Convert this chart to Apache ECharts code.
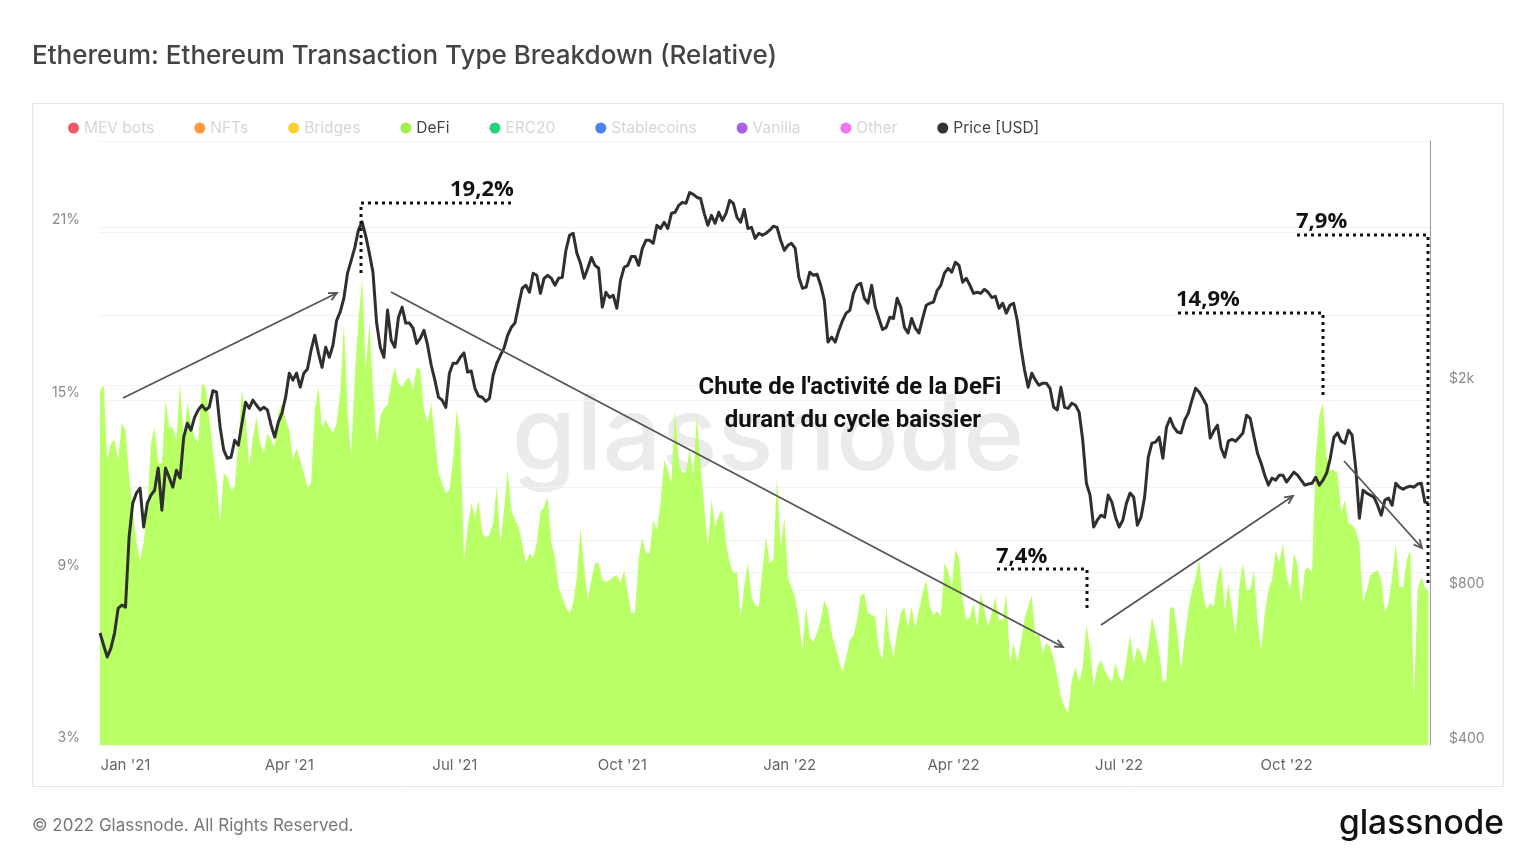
<!DOCTYPE html>
<html>
<head>
<meta charset="utf-8">
<title>Ethereum Transaction Type Breakdown</title>
<script src="https://cdn.jsdelivr.net/npm/echarts@6/dist/echarts.min.js"></script>
<style>
    html, body { margin: 0; padding: 0; background: #fff; }
    #box { width: 1536px; height: 864px; }
</style>
</head>
<body>
<div id="box"></div>
<script>
; (function () {
    // one reading every 2 days, starting 18 Dec 2020
    const startDay = Date.UTC(2020, 11, 18),
        stepDay = 2 * 24 * 3600 * 1000;

    // DeFi share of transactions, %
    const defi = [
        15.34, 15.51, 12.91, 13.50, 13.60, 12.91, 14.19, 13.95, 12.32, 11.17, 10.02, 9.43, 10.02, 11.17, 13.50, 14.05,
        12.80, 12.80, 14.99, 14.05, 14.05, 13.60, 15.58, 13.60, 14.89, 14.19, 13.71, 13.50, 15.58, 15.44, 14.40, 13.25,
        12.21, 10.72, 12.45, 12.32, 11.86, 11.97, 13.50, 15.34, 14.40, 12.66, 13.71, 14.40, 13.50, 13.15, 13.85, 13.60,
        13.36, 14.54, 14.89, 14.30, 13.95, 12.91, 13.32, 12.91, 12.45, 11.97, 12.11, 14.65, 15.44, 14.05, 14.30, 14.05,
        13.85, 14.19, 15.27, 17.67, 14.65, 13.01, 15.79, 17.77, 19.20, 16.04, 17.67, 15.44, 13.50, 14.40, 14.71, 14.82,
        15.58, 16.14, 15.58, 15.44, 15.69, 15.79, 15.34, 16.14, 16.04, 14.65, 14.19, 14.89, 13.71, 12.45, 12.11, 11.76,
        11.86, 12.91, 14.65, 13.71, 9.43, 10.58, 11.41, 10.93, 11.52, 10.37, 10.20, 10.30, 10.72, 11.97, 10.02, 11.17,
        12.56, 11.17, 10.82, 10.58, 10.02, 9.33, 9.67, 9.50, 10.02, 11.10, 11.27, 11.62, 10.02, 9.53, 8.49, 8.14,
        7.80, 7.59, 7.94, 8.84, 10.54, 9.19, 8.04, 8.74, 9.33, 9.33, 8.74, 8.67, 8.74, 8.84, 8.91, 8.63,
        9.08, 8.28, 7.59, 7.59, 9.53, 10.20, 9.67, 9.67, 10.82, 10.47, 11.41, 12.91, 12.56, 12.11, 14.65, 12.80,
        12.45, 12.49, 13.25, 12.39, 14.40, 12.80, 11.27, 9.88, 11.52, 10.58, 10.99, 11.17, 10.02, 9.36, 8.98, 9.01,
        7.45, 8.49, 9.33, 8.14, 7.87, 7.80, 9.08, 10.23, 9.33, 9.43, 12.32, 9.88, 10.93, 8.84, 8.46, 8.14,
        7.35, 6.30, 7.80, 6.75, 6.58, 6.89, 7.35, 8.04, 7.69, 6.89, 6.41, 5.95, 5.54, 6.06, 6.65, 6.82,
        7.35, 8.21, 8.28, 7.59, 7.52, 7.45, 6.30, 5.95, 7.80, 6.65, 6.06, 6.89, 7.59, 7.80, 7.10, 7.80,
        7.07, 7.69, 8.28, 8.74, 7.80, 7.52, 7.66, 7.45, 9.33, 9.08, 8.49, 9.78, 9.53, 8.04, 7.35, 7.45,
        7.94, 7.10, 8.28, 7.69, 7.10, 7.59, 8.14, 7.35, 7.35, 8.28, 5.85, 6.55, 5.89, 6.55, 7.41, 7.80,
        8.21, 6.75, 6.89, 6.20, 6.55, 6.41, 6.02, 5.36, 4.67, 4.32, 4.11, 5.26, 5.71, 5.16, 5.71, 7.17,
        6.41, 5.02, 5.71, 5.95, 5.61, 5.36, 5.16, 5.85, 5.36, 5.16, 5.95, 6.82, 5.85, 6.41, 6.20, 5.78,
        6.41, 7.45, 6.89, 6.23, 5.16, 5.26, 7.80, 7.76, 6.89, 5.61, 6.75, 7.69, 8.39, 8.80, 9.43, 8.28,
        7.69, 7.94, 7.80, 8.80, 9.26, 7.69, 8.63, 7.69, 6.82, 8.49, 9.33, 8.39, 8.39, 9.08, 7.35, 6.30,
        7.59, 8.39, 8.74, 9.78, 9.33, 10.02, 8.84, 8.39, 9.67, 9.26, 7.87, 9.08, 9.19, 8.98, 13.01, 14.47,
        14.90, 13.01, 12.56, 12.56, 12.45, 11.06, 11.52, 10.72, 10.65, 10.47, 10.02, 7.94, 8.39, 8.91, 9.01, 9.08,
        8.74, 7.59, 7.94, 8.84, 10.02, 8.49, 8.49, 9.43, 9.78, 4.56, 8.39, 8.84, 8.49, 8.32
    ];

    // ETH price, USD
    const price = [
        660, 625, 593, 617, 660, 738, 748, 741, 1014, 1180, 1234, 1262, 1060, 1180, 1223, 1250,
        1380, 1143, 1380, 1325, 1267, 1367, 1320, 1585, 1687, 1635, 1733, 1790, 1828, 1790, 1811, 1950,
        1940, 1657, 1495, 1442, 1449, 1563, 1529, 1687, 1853, 1803, 1870, 1828, 1790, 1811, 1790, 1672,
        1585, 1695, 1765, 1895, 2110, 2045, 2110, 1982, 2110, 2150, 2340, 2500, 2310, 2165, 2370, 2265,
        2391, 2670, 2775, 2950, 3300, 3490, 3700, 4000, 4150, 3900, 3610, 3310, 2640, 2370, 2265, 2800,
        2445, 2370, 2710, 2835, 2640, 2640, 2580, 2410, 2465, 2555, 2391, 2186, 2045, 1895, 1870, 1811,
        2110, 2205, 2205, 2265, 2310, 2120, 2130, 1972, 1905, 1895, 1860, 1885, 2091, 2205, 2286, 2360,
        2500, 2590, 2640, 2859, 3085, 3126, 3030, 3300, 3269, 3015, 3225, 3269, 3225, 3126, 3225, 3240,
        3655, 3909, 3945, 3610, 3450, 3225, 3373, 3540, 3418, 3373, 2835, 3030, 2960, 2989, 2820, 3196,
        3388, 3418, 3557, 3557, 3418, 3688, 3823, 3823, 3772, 4087, 4030, 4145, 4030, 4313, 4333, 4469,
        4530, 4510, 4735, 4693, 4630, 4610, 4313, 4087, 4274, 4125, 4333, 4180, 4313, 4570, 4510, 4235,
        4145, 4390, 4030, 4050, 3855, 3945, 3909, 3945, 4000, 4070, 4050, 3823, 3655, 3738, 3772, 3688,
        3240, 3085, 3100, 3315, 3269, 3285, 3126, 2925, 2425, 2480, 2425, 2555, 2670, 2760, 2795, 3015,
        3126, 3155, 2950, 2885, 3126, 2835, 2695, 2565, 2590, 2710, 2695, 2950, 2835, 2590, 2525, 2695,
        2580, 2525, 2695, 2859, 2885, 2900, 3055, 3126, 3300, 3373, 3315, 3465, 3418, 3170, 3225, 3126,
        3015, 3030, 3015, 3070, 3030, 2960, 2975, 2820, 2885, 2760, 2859, 2885, 2670, 2370, 2140, 1982,
        2110, 2045, 1999, 2018, 2018, 1972, 1811, 1790, 1982, 1811, 1803, 1845, 1828, 1773, 1563, 1290,
        1223, 1060, 1093, 1118, 1108, 1223, 1185, 1108, 1060, 1093, 1180, 1234, 1212, 1069, 1108, 1212,
        1449, 1543, 1550, 1585, 1442, 1657, 1725, 1657, 1622, 1615, 1710, 1765, 1870, 1972, 1940, 1885,
        1828, 1578, 1630, 1672, 1510, 1449, 1557, 1570, 1557, 1585, 1615, 1748, 1725, 1592, 1475, 1410,
        1337, 1279, 1320, 1308, 1337, 1337, 1297, 1325, 1355, 1337, 1308, 1279, 1285, 1290, 1325, 1279,
        1308, 1350, 1442, 1585, 1615, 1557, 1543, 1635, 1599, 1380, 1103, 1250, 1234, 1223, 1212, 1169,
        1118, 1196, 1207, 1169, 1290, 1267, 1256, 1267, 1273, 1267, 1285, 1290, 1185, 1180
    ];

    const legendItems = [
        { name: 'MEV bots', color: '#f2586c', active: false },
        { name: 'NFTs', color: '#ff9a3c', active: false },
        { name: 'Bridges', color: '#ffd02e', active: false },
        { name: 'DeFi', color: '#a4ee4c', active: true },
        { name: 'ERC20', color: '#22d47e', active: false },
        { name: 'Stablecoins', color: '#4d82ea', active: false },
        { name: 'Vanilla', color: '#ab5ee8', active: false },
        { name: 'Other', color: '#f274f2', active: false },
        { name: 'Price [USD]', color: '#333333', active: true }
    ];

    const monthTicks = [
        Date.UTC(2021, 0, 1), Date.UTC(2021, 3, 1), Date.UTC(2021, 6, 1), Date.UTC(2021, 9, 1),
        Date.UTC(2022, 0, 1), Date.UTC(2022, 3, 1), Date.UTC(2022, 6, 1), Date.UTC(2022, 9, 1)
    ];
    const monthNames = ['Jan', 'Feb', 'Mar', 'Apr', 'May', 'Jun', 'Jul', 'Aug', 'Sep', 'Oct', 'Nov', 'Dec'];

    // gridlines of the price axis, only some of them carry a label
    const priceLines = [400, 800, 1000, 1268, 2000, 2736, 3965];
    const priceLabels = { 400: '$400', 800: '$800', 2000: '$2k' };

    init();

    function init() {
        const chart = echarts.init(document.getElementById('box'));
        chart.setOption(buildOption());
    }

    function withDates(values) {
        return values.map((v, i) => [startDay + i * stepDay, v]);
    }

    function buildSeries() {
        const series = legendItems
            .filter(item => !item.active)
            .map(item => ({ name: item.name, type: 'line', data: [] }));

        series.push({
            name: 'DeFi',
            type: 'line',
            yAxisIndex: 0,
            showSymbol: false,
            silent: true,
            lineStyle: { width: 0 },
            itemStyle: { color: '#a4ee4c' },
            areaStyle: { color: '#b9ff66', opacity: 1, origin: 'start' },
            data: withDates(defi)
        });

        series.push({
            name: 'Price [USD]',
            type: 'line',
            yAxisIndex: 1,
            showSymbol: false,
            z: 5,
            lineStyle: { color: '#2f2f2f', width: 3, join: 'round' },
            itemStyle: { color: '#333' },
            markLine: {
                silent: true,
                symbol: 'none',
                animation: false,
                z: 1,   // stays under the green area
                lineStyle: { color: '#f2f2f2', width: 1, type: 'solid' },
                label: {
                    position: 'end',
                    distance: 19,
                    offset: [0, -6],
                    color: '#8a8a8a',
                    fontFamily: 'Inter',
                    fontSize: 14,
                    formatter: p => priceLabels[p.value] || ''
                },
                data: priceLines.map(v => ({ yAxis: v }))
            },
            data: withDates(price)
        });
        return series;
    }

    function dotted(points) {
        return {
            type: 'polyline',
            z: 60,
            shape: { points: points },
            style: { stroke: '#111', lineWidth: 3, lineDash: [3, 4], fill: null }
        };
    }

    function arrow(x1, y1, x2, y2) {
        const a = Math.atan2(y2 - y1, x2 - x1),
            s = 9;
        return {
            type: 'group',
            z: 60,
            children: [
                {
                    type: 'line',
                    z: 60,
                    shape: { x1: x1, y1: y1, x2: x2, y2: y2 },
                    style: { stroke: '#555', lineWidth: 1.8 }
                },
                {
                    type: 'polyline',
                    z: 60,
                    shape: {
                        points: [
                            [x2 - s * Math.cos(a - 0.45), y2 - s * Math.sin(a - 0.45)],
                            [x2, y2],
                            [x2 - s * Math.cos(a + 0.45), y2 - s * Math.sin(a + 0.45)]
                        ]
                    },
                    style: { stroke: '#555', lineWidth: 1.8, fill: null }
                }
            ]
        };
    }

    function note(text, x, y, extra) {
        return {
            type: 'text',
            z: 61,
            x: x,
            y: y,
            style: Object.assign({
                text: text,
                fill: '#111',
                font: 'bold 22px "Open Sans"',
                textAlign: 'left',
                textVerticalAlign: 'middle'
            }, extra || {})
        };
    }

    function buildGraphics() {
        return [
            // card around the plot
            {
                type: 'rect',
                z: -10,
                shape: { x: 32.5, y: 103.5, width: 1471, height: 683 },
                style: { stroke: '#e6e6e6', lineWidth: 1, fill: '#fff' }
            },
            // watermark sits behind the series
            {
                type: 'text',
                z: -5,
                x: 768,
                y: 439,
                style: {
                    text: 'glassnode',
                    fill: '#ebebeb',
                    font: '500 104px Inter',
                    textAlign: 'center',
                    textVerticalAlign: 'middle'
                }
            },
            {
                type: 'text',
                x: 32,
                y: 826,
                style: {
                    text: '© 2022 Glassnode. All Rights Reserved.',
                    fill: '#777',
                    font: '17px Inter',
                    textAlign: 'left',
                    textVerticalAlign: 'middle'
                }
            },
            {
                type: 'text',
                x: 1504,
                y: 824,
                style: {
                    text: 'glassnode',
                    fill: '#111',
                    font: '500 33.5px Inter',
                    textAlign: 'right',
                    textVerticalAlign: 'middle'
                }
            },
            dotted([[361, 273], [361, 203], [514, 203]]),
            dotted([[1178, 313], [1323, 313], [1323, 398]]),
            dotted([[997, 569], [1087, 569], [1087, 612]]),
            dotted([[1297, 235], [1428, 235], [1428, 585]]),
            arrow(123, 398, 337, 293),
            arrow(391, 292, 1063, 647),
            arrow(1101, 625, 1293, 496),
            arrow(1344, 461, 1422, 548),
            note('19,2%', 450, 190),
            note('14,9%', 1176, 300),
            note('7,4%', 996, 557),
            note('7,9%', 1296, 222),
            note("Chute de l'activité de la DeFi", 850, 388, { font: 'bold 24px Roboto', textAlign: 'center' }),
            note('durant du cycle baissier', 853, 421, { font: 'bold 24px Roboto', textAlign: 'center' })
        ];
    }

    function buildOption() {
        return {
            animation: false,
            useUTC: true,
            backgroundColor: '#fff',
            title: {
                text: 'Ethereum: Ethereum Transaction Type Breakdown (Relative)',
                left: 32,
                top: 43,
                padding: 0,
                textStyle: { color: '#444', fontFamily: 'Inter', fontSize: 26, fontWeight: 500 }
            },
            legend: {
                left: 63,
                top: 115,
                itemWidth: 11,
                itemHeight: 11,
                itemGap: 40,
                data: legendItems.map(item => ({
                    name: item.name,
                    icon: 'circle',
                    itemStyle: { color: item.color },
                    textStyle: {
                        color: item.active ? '#444' : '#d6d6d6',
                        fontFamily: 'Inter',
                        fontSize: 15.5
                    }
                }))
            },
            grid: { left: 100, right: 106, top: 141, bottom: 119 },
            // timestamps on a value axis, so the quarter labels can be listed
            xAxis: {
                type: 'value',
                min: startDay,
                max: startDay + 730.8 * 24 * 3600 * 1000,
                axisLine: { show: true, lineStyle: { color: '#eeeeee' } },
                axisTick: { show: false },
                splitLine: { show: false },
                axisLabel: {
                    customValues: monthTicks,
                    margin: 13,
                    color: '#666',
                    fontFamily: 'Inter',
                    fontSize: 15,
                    formatter: function (v) {
                        const d = new Date(v);
                        return monthNames[d.getUTCMonth()] + " '" + String(d.getUTCFullYear()).slice(2);
                    }
                }
            },
            yAxis: [
                {
                    type: 'value',
                    min: 3,
                    max: 24,
                    interval: 6,
                    axisLine: { show: false },
                    axisTick: { show: false },
                    splitLine: { lineStyle: { color: '#f2f2f2' } },
                    axisLabel: {
                        showMaxLabel: false,
                        margin: 20,
                        verticalAlign: 'bottom',
                        color: '#8a8a8a',
                        fontFamily: 'Inter',
                        fontSize: 14,
                        formatter: '{value}%'
                    }
                },
                {
                    type: 'log',
                    min: 400,
                    max: 5960,
                    position: 'right',
                    axisLine: { show: true, lineStyle: { color: '#9a9a9a' } },
                    axisTick: { show: false },
                    splitLine: { show: false },
                    axisLabel: { show: false }
                }
            ],
            series: buildSeries(),
            graphic: { elements: buildGraphics() }
        };
    }
})()
</script>
</body>
</html>
